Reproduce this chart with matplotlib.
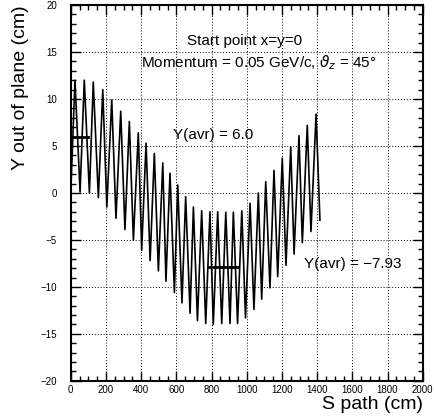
import numpy as np
import matplotlib.pyplot as plt

plt.rcParams['font.family'] = ['Liberation Sans', 'DejaVu Sans']

# extrema of the track (S in cm, Y in cm)
peak_s = [24, 77, 128, 182, 233, 284, 333, 384, 428, 475, 523, 564, 608, 653, 697,
          744, 791, 835, 881, 924, 972, 1019, 1066, 1108, 1155, 1202, 1250, 1297, 1344, 1394]
peak_y = [12.0, 12.0, 11.8, 11.0, 9.9, 8.7, 7.6, 6.4, 5.3, 4.2, 3.2, 2.1, 0.85, -0.4, -1.5,
          -1.9, -2.0, -2.0, -2.05, -2.05, -1.9, -1.1, 0.0, 1.2, 2.4, 3.7, 4.9, 6.1, 7.2, 8.4]
trough_s = [53, 106, 157, 205, 257, 308, 356, 403, 451, 498, 541, 589, 632, 678, 720,
            767, 810, 858, 905, 948, 993, 1041, 1085, 1132, 1176, 1223, 1269, 1316, 1365]
trough_y = [0.1, 0.0, -0.5, -1.5, -2.7, -3.9, -5.0, -6.1, -7.2, -8.3, -9.4, -10.6, -11.7, -12.8, -13.6,
            -13.9, -14.0, -13.9, -13.9, -13.9, -13.3, -12.4, -11.3, -10.1, -8.9, -7.7, -6.5, -5.3, -4.1]
start = (0, 0.0)
end = (1416, -2.9)

avg1_s = [0, 100]
avg1_y = 6.0
avg2_s = [780, 950]
avg2_y = -7.93

# build the zigzag: start, P1, T1, P2, T2, ..., P30, end
s = [start[0]]
y = [start[1]]
for i in range(len(peak_s)):
    s.append(peak_s[i]); y.append(peak_y[i])
    if i < len(trough_s):
        s.append(trough_s[i]); y.append(trough_y[i])
s.append(end[0]); y.append(end[1])

fig = plt.figure(figsize=(4.34, 4.19), dpi=100)
ax = fig.add_axes([0.163, 0.091, 0.811, 0.897])

ax.plot(s, y, color='black', lw=1.2)
ax.plot(avg1_s, [avg1_y, avg1_y], color='black', lw=2)
ax.plot(avg2_s, [avg2_y, avg2_y], color='black', lw=2)

ax.set_xlim(0, 2000)
ax.set_ylim(-20, 20)
ax.set_xticks(np.arange(0, 2001, 200))
ax.set_xticks(np.arange(0, 2001, 50), minor=True)
ax.set_yticks(np.arange(-20, 21, 5))
ax.set_yticks(np.arange(-20, 21, 1), minor=True)
ax.grid(True, which='major', color='black', linestyle=(0, (1, 2)), lw=0.7)

ax.tick_params(which='both', direction='in', top=True, right=True, labelsize=7)
ax.tick_params(which='major', length=7, width=1)
ax.tick_params(which='minor', length=3.5, width=1)
ax.tick_params(axis='y', pad=10)
ax.tick_params(axis='x', pad=3)
for sp in ax.spines.values():
    sp.set_linewidth(1.5)

ax.text(990, 16.2, 'Start point x=y=0', ha='center', va='center', fontsize=11)
ax.text(1070, 13.9, r'Momentum = 0.05 GeV/c, $\vartheta_z$ = 45°', ha='center', va='center', fontsize=11)
ax.text(810, 6.2, 'Y(avr) = 6.0', ha='center', va='center', fontsize=11)
ax.text(1600, -7.55, 'Y(avr) = \u22127.93', ha='center', va='center', fontsize=11)

ax.set_xlabel('S path (cm)', fontsize=14, loc='right', labelpad=1)
ax.set_ylabel('Y out of plane (cm)', fontsize=14, loc='top', labelpad=8)

fig.savefig('out.png', dpi=100)
